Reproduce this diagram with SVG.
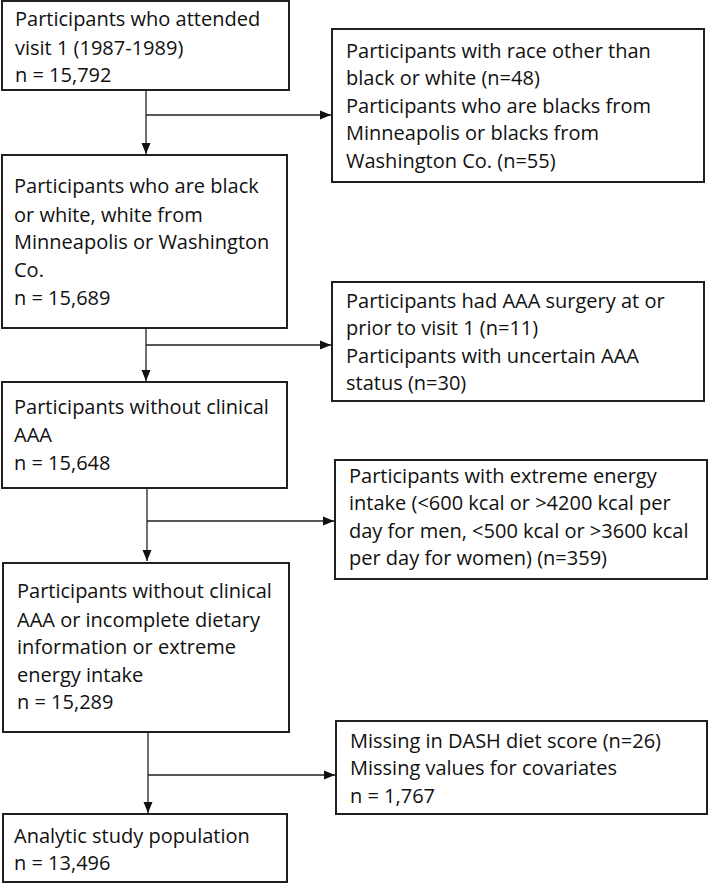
<svg xmlns="http://www.w3.org/2000/svg" width="709" height="883" viewBox="0 0 709 883">
<style>
.box{fill:#fff;stroke:#231f20;stroke-width:2}
.t{font-family:"Open Sans","Liberation Sans",sans-serif;font-size:20px;fill:#111}
.c{fill:none;stroke:#231f20;stroke-width:1.3}
</style>
<defs>
<marker id="ah" markerUnits="userSpaceOnUse" markerWidth="12" markerHeight="10" refX="11" refY="5" orient="auto">
<path d="M0,0.5 L11,5 L0,9.5 Z" fill="#111"/>
</marker>
</defs>
<rect width="709" height="883" fill="#fff"/>
<g id="connectors">
<path class="c" d="M146,90 V154" marker-end="url(#ah)"/>
<path class="c" d="M146,115 H331" marker-end="url(#ah)"/>
<path class="c" d="M146,328 V381" marker-end="url(#ah)"/>
<path class="c" d="M146,345 H331" marker-end="url(#ah)"/>
<path class="c" d="M147,488 V561" marker-end="url(#ah)"/>
<path class="c" d="M147,521 H334" marker-end="url(#ah)"/>
<path class="c" d="M148,732 V813" marker-end="url(#ah)"/>
<path class="c" d="M148,775 H335" marker-end="url(#ah)"/>
</g>
<g id="box1">
<rect class="box" x="2" y="1" width="287" height="89"/>
<text class="t" x="15" y="26">Participants who attended</text>
<text class="t" x="15" y="54.5">visit 1 (1987-1989)</text>
<text class="t" x="15" y="82">n = 15,792</text>
</g>
<g id="excl1">
<rect class="box" x="332" y="29" width="372" height="153"/>
<text class="t" x="346" y="57.5">Participants with race other than</text>
<text class="t" x="346" y="85">black or white (n=48)</text>
<text class="t" x="346" y="112.5">Participants who are blacks from</text>
<text class="t" x="346" y="140">Minneapolis or blacks from</text>
<text class="t" x="346" y="167.5">Washington Co. (n=55)</text>
</g>
<g id="box2">
<rect class="box" x="2" y="155" width="285" height="173"/>
<text class="t" x="14" y="193">Participants who are black</text>
<text class="t" x="14" y="221.5">or white, white from</text>
<text class="t" x="14" y="249">Minneapolis or Washington</text>
<text class="t" x="14" y="277">Co.</text>
<text class="t" x="14" y="305">n = 15,689</text>
</g>
<g id="excl2">
<rect class="box" x="332" y="282" width="372" height="119"/>
<text class="t" x="346" y="307.5">Participants had AAA surgery at or</text>
<text class="t" x="346" y="335">prior to visit 1 (n=11)</text>
<text class="t" x="346" y="362.5">Participants with uncertain AAA</text>
<text class="t" x="346" y="390">status (n=30)</text>
</g>
<g id="box3">
<rect class="box" x="2" y="382" width="285" height="106"/>
<text class="t" x="14" y="414">Participants without clinical</text>
<text class="t" x="14" y="442">AAA</text>
<text class="t" x="14" y="470">n = 15,648</text>
</g>
<g id="excl3">
<rect class="box" x="335" y="460" width="372" height="119"/>
<text class="t" x="349" y="482.5">Participants with extreme energy</text>
<text class="t" x="349" y="510">intake (&lt;600 kcal or &gt;4200 kcal per</text>
<text class="t" x="349" y="537.5">day for men, &lt;500 kcal or &gt;3600 kcal</text>
<text class="t" x="349" y="565">per day for women) (n=359)</text>
</g>
<g id="box4">
<rect class="box" x="3" y="563" width="286" height="169"/>
<text class="t" x="17" y="598">Participants without clinical</text>
<text class="t" x="17" y="626.5">AAA or incomplete dietary</text>
<text class="t" x="17" y="654">information or extreme</text>
<text class="t" x="17" y="681.5">energy intake</text>
<text class="t" x="17" y="709">n = 15,289</text>
</g>
<g id="excl4">
<rect class="box" x="336" y="721" width="371" height="93"/>
<text class="t" x="350" y="747.5">Missing in DASH diet score (n=26)</text>
<text class="t" x="350" y="775">Missing values for covariates</text>
<text class="t" x="350" y="802.5">n = 1,767</text>
</g>
<g id="box5">
<rect class="box" x="3" y="814" width="284" height="68"/>
<text class="t" x="14" y="843">Analytic study population</text>
<text class="t" x="14" y="870">n = 13,496</text>
</g>
</svg>
